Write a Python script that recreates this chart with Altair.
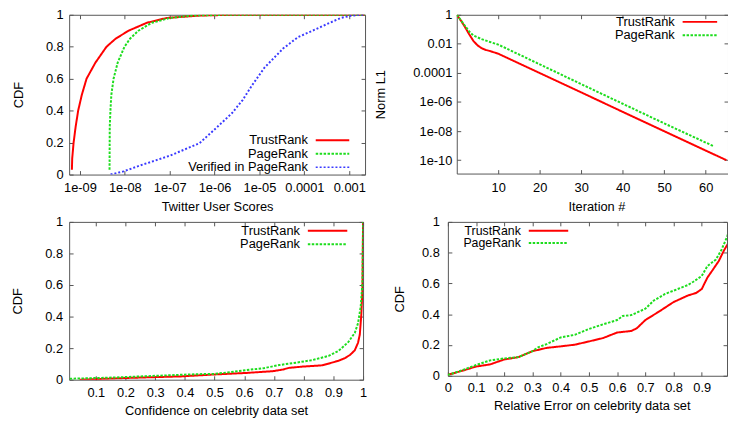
import altair as alt
import pandas as pd

FONT = "Liberation Sans"
FS = 13
RED, GREEN, BLUE = "#ff0000", "#1ddd1d", "#3a3aff"
FRAME = "#555555"
COLORS = [RED, GREEN, BLUE]
DASHES = [[1, 0], [2.5, 1.5], [2, 2]]
WIDTHS = [2, 2, 1.5]

# ---------------- Panel 1: CDF of Twitter user scores ----------------
p1_names = ["TrustRank", "PageRank", "Verified in PageRank"]
p1_tr_score = [6.6e-10, 6.7e-10, 7.2e-10, 8.0e-10, 9.1e-10, 1.1e-9, 1.4e-9, 2.2e-9, 3.9e-9,
               6.2e-9, 1.2e-8, 3.1e-8, 8.5e-8, 4.6e-7, 2.5e-6, 2.2e-3]
p1_tr_cdf = [0.03, 0.10, 0.20, 0.30, 0.40, 0.50, 0.60, 0.70, 0.80,
             0.85, 0.90, 0.95, 0.98, 0.995, 1.0, 1.0]
p1_pr_score = [4.55e-9, 4.6e-9, 4.8e-9, 5.0e-9, 5.6e-9, 6.9e-9, 9.8e-9, 1.3e-8, 2.0e-8,
               4.0e-8, 1.0e-7, 3.2e-7, 1.8e-6, 2.2e-3]
p1_pr_cdf = [0.03, 0.30, 0.42, 0.50, 0.60, 0.70, 0.80, 0.85, 0.90,
             0.95, 0.98, 0.995, 1.0, 1.0]
p1_vf_score = [4.8e-9, 9.3e-9, 2.2e-8, 1.0e-7, 4.6e-7, 1.07e-6, 2.45e-6, 4.2e-6, 6.8e-6,
               1.3e-5, 3.4e-5, 7.2e-5, 1.66e-4, 3.9e-4, 6.5e-4, 1.07e-3, 1.7e-3, 2.2e-3]
p1_vf_cdf = [0.0, 0.02, 0.057, 0.118, 0.196, 0.29, 0.385, 0.466, 0.558,
             0.67, 0.79, 0.86, 0.905, 0.953, 0.98, 0.994, 1.0, 1.0]
p1_xticks = [1e-9, 1e-8, 1e-7, 1e-6, 1e-5, 1e-4, 1e-3]
p1_xlabels = ["1e-09", "1e-08", "1e-07", "1e-06", "1e-05", "0.0001", "0.001"]

# ---------------- Panel 2: convergence (Norm L1 per iteration) ----------------
p2_names = ["TrustRank", "PageRank"]
p2_tr_iter = [0, 1, 2, 3, 4, 5, 6, 7, 8, 10, 20, 30, 40, 50, 60, 65]
p2_tr_norm = [1.0, 0.4, 0.14, 0.045, 0.016, 0.0079, 0.005, 0.0038, 0.0032, 0.0021,
              9.8e-5, 4.6e-6, 2.1e-7, 9.8e-9, 4.6e-10, 1.0e-10]
p2_pr_iter = [0, 1, 2, 3, 4, 5, 6, 8, 10, 20, 30, 40, 50, 62]
p2_pr_norm = [1.0, 0.42, 0.17, 0.071, 0.038, 0.028, 0.021, 0.0135, 0.0089,
              3.9e-4, 1.7e-5, 7.6e-7, 3.4e-8, 8.9e-10]
p2_xticks = [10, 20, 30, 40, 50, 60]
p2_yticks = [1, 1e-2, 1e-4, 1e-6, 1e-8, 1e-10]
p2_ylabels = ["1", "0.01", "0.0001", "1e-06", "1e-08", "1e-10"]

# ---------------- Panel 3: confidence on celebrity data set ----------------
p3_names = ["TrustRank", "PageRank"]
p3_tr_x = [0.045, 0.221, 0.387, 0.498, 0.608, 0.696, 0.729, 0.751, 0.796, 0.862, 0.895,
           0.917, 0.939, 0.956, 0.972, 0.983, 0.989, 0.994, 0.998, 1.0]
p3_tr_cdf = [0.0, 0.012, 0.021, 0.033, 0.043, 0.054, 0.064, 0.075, 0.083, 0.091, 0.108,
             0.12, 0.137, 0.157, 0.186, 0.234, 0.286, 0.41, 0.576, 1.0]
p3_pr_x = [0.012, 0.166, 0.332, 0.442, 0.498, 0.553, 0.619, 0.663, 0.718, 0.774, 0.829,
           0.884, 0.917, 0.95, 0.972, 0.983, 0.992, 0.998, 1.0]
p3_pr_cdf = [0.006, 0.014, 0.027, 0.035, 0.037, 0.048, 0.064, 0.072, 0.093, 0.108, 0.124,
             0.151, 0.182, 0.238, 0.296, 0.358, 0.462, 0.617, 1.0]
p3_xticks = [0.1, 0.2, 0.3, 0.4, 0.5, 0.6, 0.7, 0.8, 0.9, 1.0]

# ---------------- Panel 4: relative error on celebrity data set ----------------
p4_names = ["TrustRank", "PageRank"]
p4_tr_x = [0, 0.05, 0.1, 0.15, 0.2, 0.25, 0.3, 0.35, 0.4, 0.45, 0.5, 0.55, 0.6, 0.65, 0.67,
           0.7, 0.75, 0.8, 0.83, 0.85, 0.88, 0.9, 0.92, 0.94, 0.96, 0.98, 1.0]
p4_tr_cdf = [0.006, 0.032, 0.06, 0.074, 0.106, 0.121, 0.16, 0.181, 0.191, 0.202, 0.223, 0.245,
             0.281, 0.291, 0.309, 0.362, 0.419, 0.479, 0.504, 0.521, 0.538, 0.564, 0.638,
             0.691, 0.745, 0.819, 0.88]
p4_pr_x = [0, 0.05, 0.1, 0.15, 0.2, 0.25, 0.3, 0.32, 0.35, 0.4, 0.45, 0.5, 0.55, 0.6, 0.62,
           0.65, 0.7, 0.73, 0.77, 0.8, 0.85, 0.87, 0.9, 0.92, 0.95, 0.97, 0.99, 1.0]
p4_pr_cdf = [0.005, 0.035, 0.07, 0.1, 0.113, 0.121, 0.16, 0.185, 0.206, 0.249, 0.266, 0.304,
             0.334, 0.362, 0.389, 0.394, 0.436, 0.489, 0.532, 0.553, 0.589, 0.611, 0.649,
             0.713, 0.755, 0.819, 0.904, 0.968]
p4_xticks = [0, 0.1, 0.2, 0.3, 0.4, 0.5, 0.6, 0.7, 0.8, 0.9]

cdf_ticks = [0, 0.2, 0.4, 0.6, 0.8, 1.0]

ONE = pd.DataFrame({"k": [0]})


def make_df(series):
    rows = []
    for name, xs, ys in series:
        for i, (x, y) in enumerate(zip(xs, ys)):
            rows.append({"x": x, "y": y, "s": name, "i": i})
    return pd.DataFrame(rows)


def mirror_axis(orient, values):
    return alt.Axis(orient=orient, values=values, labels=False, title=None, domain=False,
                    grid=False, ticks=True, tickSize=4, offset=-4, tickColor=FRAME,
                    minExtent=0, maxExtent=0)


def main_axis(orient, values, title, label_pad, title_pad, label_expr=None, fmt=None,
              title_x=None):
    kw = dict(orient=orient, values=values, title=title, domain=False, grid=False, ticks=True,
              tickSize=4, offset=-4, tickColor=FRAME, labelPadding=label_pad,
              titlePadding=title_pad, labelFlush=False, labelOverlap=False, labelFontSize=FS,
              titleFontSize=FS, labelFont=FONT, titleFont=FONT, titleFontWeight="normal",
              labelColor="black", titleColor="black", minExtent=0)
    if label_expr:
        kw["labelExpr"] = label_expr
    if fmt:
        kw["format"] = fmt
    if title_x is not None:
        kw["titleX"] = title_x
    return alt.Axis(**kw)


def panel(series, names, xscale, yscale, xaxis, yaxis, xvals, yvals, legend, w, h):
    df = make_df(series)
    n = len(names)
    lines = alt.Chart(df).mark_line(clip=True).encode(
        x=alt.X("x:Q", scale=xscale, axis=xaxis),
        y=alt.Y("y:Q", scale=yscale, axis=yaxis),
        color=alt.Color("s:N", scale=alt.Scale(domain=names, range=COLORS[:n]), legend=None),
        strokeDash=alt.StrokeDash("s:N", scale=alt.Scale(domain=names, range=DASHES[:n]), legend=None),
        strokeWidth=alt.StrokeWidth("s:N", scale=alt.Scale(domain=names, range=WIDTHS[:n]), legend=None),
        order="i:Q",
    )
    mirror = alt.Chart(df).mark_line(opacity=0, strokeWidth=0, clip=True).encode(
        x=alt.X("x:Q", scale=xscale, axis=mirror_axis("top", xvals)),
        y=alt.Y("y:Q", scale=yscale, axis=mirror_axis("right", yvals)),
        order="i:Q",
    )
    tx, sx0, sx1, y0, dy, lfs = legend
    leg = []
    for k, name in enumerate(names):
        yy = y0 + k * dy
        leg.append(alt.Chart(ONE).mark_text(text=name, align="right", baseline="middle",
                                            font=FONT, fontSize=lfs, color="black")
                   .encode(x=alt.value(tx), y=alt.value(yy)))
        leg.append(alt.Chart(ONE).mark_rule(color=COLORS[k], strokeDash=DASHES[k],
                                            strokeWidth=WIDTHS[k])
                   .encode(x=alt.value(sx0), x2=alt.value(sx1), y=alt.value(yy)))
    return (alt.layer(lines, mirror, *leg)
            .resolve_axis(x="independent", y="independent")
            .properties(width=w, height=h))


p1_expr = "[" + ",".join("'%s'" % s for s in p1_xlabels) + "][round(log(datum.value)/LN10)+9]"
p2_expr = "[" + ",".join("'%s'" % s for s in p2_ylabels) + "][round(-log(datum.value)/LN10/2)]"

p1 = panel(
    [(p1_names[0], p1_tr_score, p1_tr_cdf), (p1_names[1], p1_pr_score, p1_pr_cdf),
     (p1_names[2], p1_vf_score, p1_vf_cdf)],
    p1_names,
    alt.Scale(type="log", domain=[5.73e-10, 2.25e-3], nice=False),
    alt.Scale(domain=[0, 1], nice=False),
    main_axis("bottom", p1_xticks, "Twitter User Scores", 7, 6, label_expr=p1_expr),
    main_axis("left", cdf_ticks, "CDF", 6, 20.5, fmt="~g"),
    p1_xticks, cdf_ticks,
    (242, 250, 284, 127.3, 13.6, 13), 300, 162)

p2 = panel(
    [(p2_names[0], p2_tr_iter, p2_tr_norm), (p2_names[1], p2_pr_iter, p2_pr_norm)],
    p2_names,
    alt.Scale(domain=[0, 65.38], nice=False),
    alt.Scale(type="log", domain=[1.2e-11, 1], nice=False),
    main_axis("bottom", p2_xticks, "Iteration #", 8, 6, fmt="d", title_x=141.6),
    main_axis("left", p2_yticks, "Norm L1", 5, 25, label_expr=p2_expr),
    p2_xticks, p2_yticks,
    (221, 229, 264, 7.2, 13.6, 13), 275, 161)

p3 = panel(
    [(p3_names[0], p3_tr_x, p3_tr_cdf), (p3_names[1], p3_pr_x, p3_pr_cdf)],
    p3_names,
    alt.Scale(domain=[0.0103, 1], nice=False),
    alt.Scale(domain=[0, 1], nice=False),
    main_axis("bottom", p3_xticks, "Confidence on celebrity data set", 7.5, 4.5, fmt="~g"),
    main_axis("left", cdf_ticks, "CDF", 6.7, 20.4, fmt="~g"),
    p3_xticks, cdf_ticks,
    (234, 242, 282, 9, 13.6, 13), 298, 160)

p4 = panel(
    [(p4_names[0], p4_tr_x, p4_tr_cdf), (p4_names[1], p4_pr_x, p4_pr_cdf)],
    p4_names,
    alt.Scale(domain=[0, 0.9895], nice=False),
    alt.Scale(domain=[0, 1], nice=False),
    main_axis("bottom", p4_xticks, "Relative Error on celebrity data set", 6, 5, fmt="~g",
              title_x=145.9),
    main_axis("left", cdf_ticks, "CDF", 8.7, 15, fmt="~g"),
    p4_xticks, cdf_ticks,
    (74, 82, 122, 9, 12.5, 12.5), 283, 156)

row1 = alt.hconcat(p1, p2, spacing=8)
row2 = alt.hconcat(p3, p4, spacing=25)

chart = (alt.vconcat(row1, row2, spacing=1)
         .configure_view(stroke=FRAME, strokeWidth=1)
         .properties(padding={"left": 3, "top": -3, "right": -1, "bottom": 0},
                     background="white"))

chart.save("out.html", embed_options={"renderer": "svg", "actions": False})
